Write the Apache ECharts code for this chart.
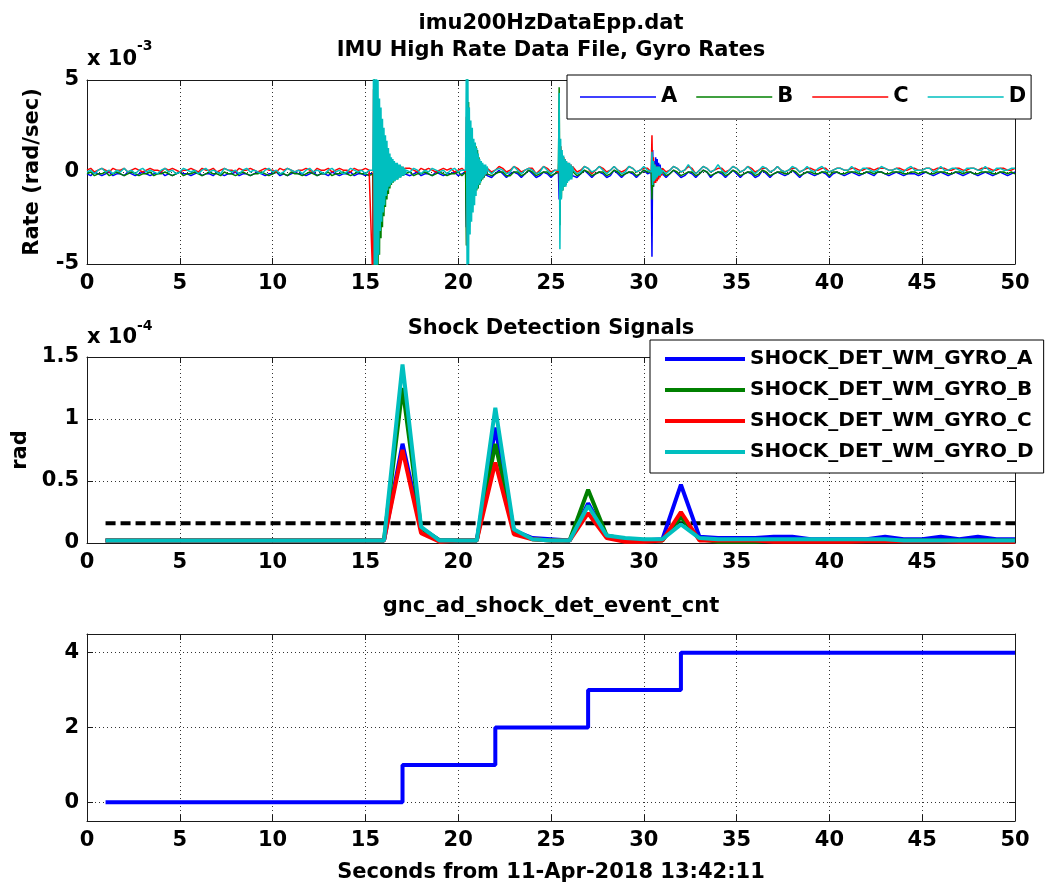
<!DOCTYPE html>
<html><head><meta charset="utf-8">
<script src="https://cdn.jsdelivr.net/npm/echarts@6/dist/echarts.min.js"></script>
<style>html,body{margin:0;padding:0;background:#fff}#c{width:1048px;height:886px}</style>
</head><body><div id="c"></div>
<script>
// ---------- Top panel: gyro rates, values in units of 1e-4 rad/sec ----------
// sample-time segments (start seconds, step seconds)
const segStart = [0, 15.4, 17.2, 20.4, 21.6, 25.4, 26.2, 30.4, 31.0];
const segStep  = [0.2, 0.04, 0.2, 0.04, 0.2, 0.04, 0.2, 0.04, 0.2];

const gyroA = [
 [-1,-2,0,-1,-2,-1,0,-2,-1,-1,-2,0,-1,-2,-1,0,-1,-2,-1,-1,0,-2,-1,-2,-1,0,-1,-1,-2,-1,0,-2,-1,-1,-2,0,-1,-2,-1,-1,0,-2,-1,-1,-2,-1,0,-1,-2,-1,-1,0,-2,-1,-2,-1,0,-1,-1,-2,-1,0,-2,-1,-1,-2,0,-1,-2,-1,-1,0,-2,-1,-1,-2,-1],
 [-1,-40,45,-50,50,-45,40,-38,33,-30,27,-24,22,-19,18,-15,15,-12,12,-10,10,-8,8,-6,6,-5,5,-4,4,-4,3,-3,3,-3,2,-2,2,-2,2,-2,1,-2,1,-1,0],
 [-1,-2,-1,0,-2,-1,-1,-2,0,-1,-2,-1,-1,0,-2,-1],
 [0,-30,45,-40,35,-30,25,-22,20,-18,15,-14,12,-10,10,-8,8,-6,6,-5,4,-4,3,-3,2,-3,1,-2,1,-2],
 [-1,-3,-1,1,-1,-3,-1,0,-1,-3,-1,1,-1,-3,-2,0,-1,-3,-1],
 [0,-15,10,-12,8,-9,6,-7,5,-6,4,-5,3,-4,3,-4,2,-3,2,-2],
 [-1,-3,-1,1,-1,-3,-1,0,-1,-3,-2,1,-1,-3,-1,0,-1,-3,-1,1,-1],
 [0,-46,12,-8,6,-4,8,-3,7,-2,5,-2,4,-1,2],
 [-1,-3,-1,1,-1,-3,-2,0,-1,-3,-1,1,0,-3,-1,0,-1,-3,-1,1,
  -1,-3,-1,0,-1,-3,-2,1,-1,-3,-1,0,-1,-2,-1,1,-1,-3,-1,0,
  -1,-2,-1,0,-1,-3,-1,0,-1,-2,-1,0,-1,-2,-1,0,-1,-2,0,0,
  -1,-2,-1,0,-1,-2,-1,-1,-1,-2,-1,0,-1,-2,-1,0,-1,-2,-1,0,
  -1,-2,-1,0,-1,-2,-1,0,-1,-2,-1,0,-1,-2,-1,0]
];
const gyroB = [
 [-1,0,-2,-1,-1,0,-2,-1,0,-1,-2,-1,0,-1,-2,-1,-1,0,-2,-1,-1,0,-1,-2,-1,0,-2,-1,-1,0,-1,-2,-1,0,-1,-1,-2,0,-1,-1,-2,-1,0,-1,-2,-1,-1,0,-1,-2,-1,0,-1,-1,-2,0,-1,-1,-2,-1,0,-1,-2,-1,-1,0,-2,-1,-1,0,-1,-2,-1,0,-1,-1,-2],
 [-1,-60,55,-60,50,-60,45,-55,38,-45,30,-36,25,-30,20,-24,16,-19,13,-15,10,-12,8,-9,7,-7,6,-6,5,-5,4,-4,3,-4,3,-3,2,-3,2,-2,1,-2,1,-1,-1],
 [-1,0,-2,-1,-1,0,-1,-2,-1,0,-1,-2,-1,-1,0,-2],
 [0,-40,60,-45,38,-30,26,-25,20,-20,16,-15,14,-12,14,-10,12,-9,8,-7,6,-5,4,-4,3,-3,2,-2,1,-1],
 [0,-2,-1,0,0,-2,-2,0,0,-2,-1,1,0,-2,-1,0,0,-2,-1],
 [0,46,-29,14,-14,10,-10,8,-8,6,-7,5,-5,4,-4,3,-3,3,-3,2],
 [0,-2,-1,1,0,-2,-1,0,0,-2,-1,1,0,-2,-1,0,0,-2,-1,1,0],
 [0,-15,6,-8,4,-4,3,-3,2,-2,2,-2,1,-1,1],
 [0,-2,-1,1,0,-2,-1,0,0,-2,-1,1,0,-2,-1,0,0,-2,-1,1,
  0,-2,-1,0,0,-2,-1,1,0,-2,-1,0,0,-1,-1,1,0,-2,-1,0,
  0,-1,-1,0,0,-2,0,0,-1,-1,0,0,0,-1,-1,0,0,-1,0,0,
  -1,-1,0,0,0,-1,-1,0,0,-1,0,0,-1,-1,0,0,0,-1,-1,0,
  0,-1,0,0,-1,-1,0,0,0,-1,-1,0,0,-1,0,-1]
];
const gyroC = [
 [1,2,0,1,2,1,0,2,1,1,2,0,1,2,1,0,1,2,1,1,0,2,1,2,1,0,1,1,2,1,0,2,1,1,2,0,1,2,1,1,0,2,1,1,2,1,0,1,2,1,1,0,2,1,2,1,0,1,1,2,1,0,2,1,1,2,0,1,2,1,1,0,2,1,1,2,1],
 [-60,45,-50,48,-42,40,-36,32,-28,27,-23,22,-18,18,-15,15,-12,12,-10,10,-8,8,-6,7,-5,6,-4,5,-3,5,-3,4,-2,4,-2,3,-1,3,-1,3,0,2,0,2,1],
 [1,2,1,0,2,1,2,1,0,1,2,1,2,0,1,2],
 [0,30,-40,35,-32,28,-25,22,-20,18,-15,13,-12,10,-9,8,-7,6,-5,5,-4,4,-3,3,-2,3,-2,2,-1,2],
 [2,0,1,3,2,0,1,3,2,0,1,2,2,-1,1,3,2,0,1],
 [0,12,-18,14,-10,9,-7,8,-6,7,-5,5,-4,5,-3,4,-3,4,-2,3],
 [2,0,1,3,2,-1,1,3,2,0,1,3,1,0,1,3,2,0,1,2,2],
 [0,20,-5,8,-6,4,-6,3,-5,3,-4,2,-3,2,-2],
 [2,0,1,3,2,0,1,3,2,-1,1,3,2,0,1,2,2,0,1,3,
  2,0,1,3,2,0,1,2,2,0,1,3,1,0,1,2,2,0,1,2,
  2,1,1,2,2,0,1,2,2,1,1,2,2,1,1,2,2,1,2,2,
  2,1,1,2,2,1,1,2,2,1,1,2,2,1,2,2,2,1,1,2,
  2,1,1,2,2,1,2,2,2,1,1,2,2,1,1,2]
];
const gyroD = [
 [0,1,-1,1,2,0,1,-1,1,0,2,0,1,-1,1,2,0,1,0,-1,1,2,0,1,-1,0,2,1,0,1,-1,1,2,0,1,0,-1,2,1,0,1,-1,1,2,0,1,0,-1,1,2,0,1,-1,0,2,1,0,1,-1,1,2,0,1,0,-1,1,2,0,1,-1,0,2,1,0,1,-1,1],
 [1,60,-60,60,-60,60,-60,50,-45,40,-32,35,-27,29,-22,24,-18,20,-13,17,-10,13,-8,10,-7,8,-6,7,-5,6,-5,5,-4,5,-4,4,-3,4,-3,3,-2,3,-2,2,-1],
 [1,0,2,1,-1,1,0,2,1,0,1,-1,1,2,0,1],
 [1,60,-60,60,-50,35,-34,28,-27,24,-22,18,-18,16,-13,13,-9,10,-7,7,-6,6,-4,5,-3,4,-2,4,-1,3],
 [1,-1,1,2,1,-1,0,3,1,-1,1,2,1,-1,0,3,1,-1,1],
 [1,43,-42,18,-15,12,-10,9,-8,7,-8,6,-6,5,-5,5,-4,4,-4,3],
 [1,-1,0,3,2,0,1,3,1,-1,1,3,1,-1,0,3,2,0,1,3,1],
 [0,11,-7,6,-5,4,-4,3,-3,3,-2,3,-2,2,-1],
 [1,-1,1,3,2,0,1,4,1,-1,1,3,2,0,1,4,1,-1,1,3,
  2,0,1,3,1,-1,1,3,2,0,1,3,1,0,1,3,2,0,1,3,
  1,0,2,3,1,0,1,2,2,1,1,3,1,0,2,2,1,0,1,3,
  2,1,1,2,1,0,2,3,1,1,1,2,2,0,1,3,1,1,2,2,
  1,0,2,2,2,1,1,3,1,0,2,2,1,1,2,2]
];

// ---------- Middle panel: shock detection signals (units of 1e-4 rad), at whole seconds ----------
const shockSec = [1,2,3,4,5,6,7,8,9,10,11,12,13,14,15,16,17,18,19,20,21,22,23,24,25,26,27,28,29,30,31,32,33,34,35,36,37,38,39,40,41,42,43,44,45,46,47,48,49,50];
const shockA = [0.02,0.02,0.02,0.02,0.02,0.02,0.02,0.02,0.02,0.02,0.02,0.02,0.02,0.02,0.02,0.02,
  0.80,0.12,0.02,0.02,0.02, 0.93,0.10,0.04,0.03,0.02, 0.32,0.05,0.03,0.02,0.03,
  0.47,0.05,0.04,0.04,0.04, 0.05,0.05,0.03,0.03,0.03, 0.03,0.05,0.03,0.03,0.05, 0.03,0.05,0.03,0.03];
const shockB = [0.02,0.02,0.02,0.02,0.02,0.02,0.02,0.02,0.02,0.02,0.02,0.02,0.02,0.02,0.02,0.02,
  1.25,0.12,0.02,0.02,0.02, 0.80,0.10,0.03,0.02,0.02, 0.43,0.06,0.03,0.02,0.02,
  0.21,0.03,0.01,0.01,0.01, 0.02,0.02,0.02,0.02,0.02, 0.02,0.02,0.02,0.02,0.02, 0.02,0.02,0.02,0.02];
const shockC = [0.02,0.02,0.02,0.02,0.02,0.02,0.02,0.02,0.02,0.02,0.02,0.02,0.02,0.02,0.02,0.02,
  0.75,0.08,0.01,0.02,0.02, 0.65,0.07,0.03,0.02,0.02, 0.24,0.04,0.01,0.01,0.02,
  0.25,0.02,0.02,0.02,0.02, 0.01,0.01,0.01,0.01,0.01, 0.015,0.015,0.015,0.015,0.015, 0.01,0.01,0.01,0.01];
const shockD = [0.02,0.02,0.02,0.02,0.02,0.02,0.02,0.02,0.02,0.02,0.02,0.02,0.02,0.02,0.02,0.02,
  1.44,0.13,0.02,0.02,0.02, 1.09,0.11,0.03,0.02,0.02, 0.30,0.06,0.04,0.03,0.03,
  0.15,0.04,0.03,0.03,0.03, 0.03,0.03,0.03,0.03,0.03, 0.03,0.03,0.02,0.02,0.02, 0.02,0.02,0.02,0.02];
const shockThreshold = 0.16;
const thresholdSpan = [1, 50];

// ---------- Bottom panel: event count ----------
const eventCnt = [0,0,0,0,0,0,0,0,0,0,0,0,0,0,0,0, 1,1,1,1,1, 2,2,2,2,2, 3,3,3,3,3,
  4,4,4,4,4,4,4,4,4,4,4,4,4,4,4,4,4,4,4];

// ---------- tick labels / text ----------
const xTicks = {min:0, max:50, interval:5};
const cntTicks = [0,2,4];

// ---------- build ----------
const FONT = 'DejaVu Sans';
const AX = '#1a1a1a';
const colors = {A:'#0000ff', B:'#008000', C:'#ff0000', D:'#00bfbf'};

function buildGyro(segs){
  const out = [];
  segs.forEach((vals, k) => vals.forEach((v, j) => {
    out.push([+(segStart[k] + segStep[k]*j).toFixed(3), v/10]); // -> units of 1e-3
  }));
  return out;
}
const pairs = (xs, ys) => xs.map((x,i)=>[x, ys[i]]);

const labelStyle = {color:'#000', fontFamily:FONT, fontWeight:'bold', fontSize:21};
const gridLine = {show:true, lineStyle:{color:'#333', type:[1,3], width:1}};

function xPair(gi, extra){
  return [
    Object.assign({type:'value', gridIndex:gi, position:'bottom', min:xTicks.min, max:xTicks.max, interval:xTicks.interval,
      axisLine:{onZero:false, lineStyle:{color:AX, width:1}},
      axisTick:{inside:true, length:6, lineStyle:{color:AX}},
      axisLabel:Object.assign({margin:9}, labelStyle),
      splitLine:gridLine}, extra||{}),
    {type:'value', gridIndex:gi, position:'top', min:xTicks.min, max:xTicks.max, interval:xTicks.interval,
      axisLine:{onZero:false, lineStyle:{color:AX, width:1}},
      axisTick:{inside:true, length:6, lineStyle:{color:AX}},
      axisLabel:{show:false}, splitLine:{show:false}}
  ];
}
function yPair(gi, base, extra){
  return [
    Object.assign({type:'value', gridIndex:gi, position:'left',
      axisLine:{onZero:false, lineStyle:{color:AX, width:1}},
      axisTick:{inside:true, length:6, lineStyle:{color:AX}},
      axisLabel:Object.assign({margin:8}, labelStyle),
      splitLine:gridLine}, base, extra||{}),
    Object.assign({type:'value', gridIndex:gi, position:'right',
      axisLine:{onZero:false, lineStyle:{color:AX, width:1}},
      axisTick:{inside:true, length:6, lineStyle:{color:AX}},
      axisLabel:{show:false}, splitLine:{show:false}}, base)
  ];
}

const nameStyle = {color:'#000', fontFamily:FONT, fontWeight:'bold', fontSize:21};

const xAxis = [].concat(
  xPair(0), xPair(1),
  xPair(2, {name:'Seconds from 11-Apr-2018 13:42:11', nameLocation:'middle', nameGap:41, nameTextStyle:nameStyle})
);
const yAxis = [].concat(
  yPair(0, {min:-5, max:5, interval:5}, {name:'Rate (rad/sec)', nameLocation:'middle', nameGap:44, nameTextStyle:nameStyle}),
  yPair(1, {min:0, max:1.5, interval:0.5}, {name:'rad', nameLocation:'middle', nameGap:54, nameTextStyle:nameStyle}),
  yPair(2, {min:-0.5, max:4.5, axisTick:{inside:true, length:6, lineStyle:{color:AX}, customValues:cntTicks}},
    {axisLabel:Object.assign({margin:8, customValues:cntTicks}, labelStyle)})
);

const series = [];
[['A',gyroA],['B',gyroB],['C',gyroC],['D',gyroD]].forEach(([n, segs]) => {
  series.push({name:n, type:'line', xAxisIndex:0, yAxisIndex:0, data:buildGyro(segs),
    symbol:'none', showSymbol:false, clip:true, lineStyle:{width:1.5, color:colors[n]}, itemStyle:{color:colors[n]}});
});
series.push({name:'threshold', type:'line', xAxisIndex:2, yAxisIndex:2,
  data:thresholdSpan.map(x=>[x, shockThreshold]), symbol:'none', showSymbol:false,
  lineStyle:{width:4, color:'#000', type:[10,5]}, z:1});
[['A',shockA],['B',shockB],['C',shockC],['D',shockD]].forEach(([n, ys]) => {
  series.push({name:'SHOCK_DET_WM_GYRO_'+n, type:'line', xAxisIndex:2, yAxisIndex:2, data:pairs(shockSec, ys),
    symbol:'none', showSymbol:false, clip:true, lineStyle:{width:4, color:colors[n]}, itemStyle:{color:colors[n]}});
});
series.push({name:'gnc_ad_shock_det_event_cnt', type:'line', xAxisIndex:4, yAxisIndex:4, step:'end',
  data:pairs(shockSec, eventCnt), symbol:'none', showSymbol:false, lineStyle:{width:4, color:'#0000ff'}});

const txt = (t, x, y, size, align) => ({type:'text', x, y, z:10,
  style:{text:t, fill:'#000', font:'bold '+size+'px "DejaVu Sans"', align:align||'center', verticalAlign:'middle'}});

const option = {
  animation:false,
  backgroundColor:'#fff',
  grid:[
    {left:87, right:33, top:80, height:184},
    {left:87, right:33, top:357, height:186},
    {left:87, right:33, top:634, height:187}
  ],
  xAxis, yAxis, series,
  legend:[
    {data:['A','B','C','D'], left:567, top:75, orient:'horizontal', icon:'rect', itemWidth:76, itemHeight:1.5, itemGap:19,
      padding:[10,5,10,13], backgroundColor:'#fff', borderColor:'#000', borderWidth:1, selectedMode:false,
      textStyle:{color:'#000', fontFamily:FONT, fontWeight:'bold', fontSize:21, lineHeight:24}},
    {data:['SHOCK_DET_WM_GYRO_A','SHOCK_DET_WM_GYRO_B','SHOCK_DET_WM_GYRO_C','SHOCK_DET_WM_GYRO_D'],
      left:650, top:340, orient:'vertical', icon:'rect', itemWidth:80, itemHeight:4, itemGap:9,
      padding:[8,10,10,15], backgroundColor:'#fff', borderColor:'#000', borderWidth:1, selectedMode:false,
      textStyle:{color:'#000', fontFamily:FONT, fontWeight:'bold', fontSize:20, lineHeight:22}}
  ],
  graphic:[
    txt('imu200HzDataEpp.dat', 551, 24, 21),
    txt('IMU High Rate Data File, Gyro Rates', 551, 51, 21),
    txt('Shock Detection Signals', 551, 329, 21),
    txt('gnc_ad_shock_det_event_cnt', 551, 607, 21),
    txt('x 10', 87, 60, 21, 'left'),
    txt('-3', 137, 46, 14, 'left'),
    txt('x 10', 87, 338, 21, 'left'),
    txt('-4', 137, 326, 14, 'left')
  ]
};
const chart = echarts.init(document.getElementById('c'), null, {renderer:'canvas'});
chart.setOption(option);
</script></body></html>
